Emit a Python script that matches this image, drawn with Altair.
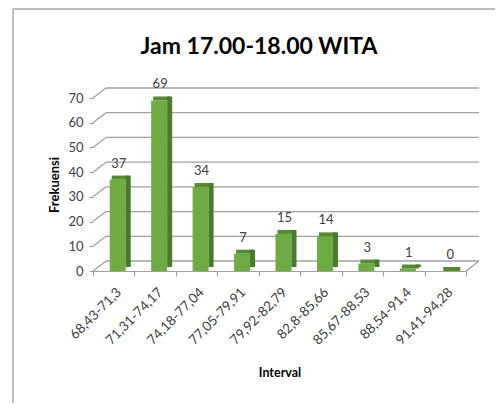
import altair as alt
import pandas as pd

title_text = "Jam 17.00-18.00 WITA"
intervals = ["68,43-71,3", "71,31-74,17", "74,18-77,04", "77,05-79,91",
             "79,92-82,79", "82,8-85,66", "85,67-88,53", "88,54-91,4", "91,41-94,28"]
frekuensi = [37, 69, 34, 7, 15, 14, 3, 1, 0]
y_ticks = [0, 10, 20, 30, 40, 50, 60, 70]

W, H = 373, 173
DX, DY = 13, -10
FONT = "Lato"
TXT = "#404040"
GRID = "#a0a0a0"

df = pd.DataFrame({"interval": intervals, "freq": frekuensi})
grid_df = pd.DataFrame({"freq": y_ticks})

x_enc = alt.X("interval:N", sort=intervals, title="Interval",
              scale=alt.Scale(paddingInner=0, paddingOuter=0),
              axis=alt.Axis(labelAngle=-45, labelFont=FONT, labelFontSize=13.5, labelColor=TXT,
                            tickBand="extent", tickSize=5, tickColor=GRID, tickWidth=1.2,
                            domainColor=GRID, domainWidth=1.2, labelPadding=9,
                            titleFont=FONT, titleFontSize=12.5, titleFontWeight="bold",
                            titleColor="#000000", titlePadding=20))
y_enc = alt.Y("freq:Q", scale=alt.Scale(domain=[0, 70]), title="Frekuensi",
              axis=alt.Axis(values=y_ticks, grid=False, domain=False, tickSize=4,
                            tickColor=GRID, tickWidth=1.2, labelFont=FONT, labelFontSize=13,
                            labelColor=TXT, labelPadding=6, titleFont=FONT, titleFontSize=13,
                            titleFontWeight="bold", titleColor="#000000", titlePadding=6))

back_grid = alt.Chart(grid_df).mark_rule(color=GRID, strokeWidth=1.3, yOffset=DY).encode(
    y=y_enc, x=alt.value(DX), x2=alt.value(W + DX))
slant = alt.Chart(grid_df).mark_rule(color=GRID, strokeWidth=1.3, y2Offset=DY).encode(
    y=y_enc, y2=alt.Y2("freq:Q"), x=alt.value(0), x2=alt.value(DX))
floor_right = alt.Chart(grid_df).transform_filter(alt.datum.freq == 0).mark_rule(
    color=GRID, strokeWidth=1.3, y2Offset=DY).encode(
    y=y_enc, y2=alt.Y2("freq:Q"), x=alt.value(W), x2=alt.value(W + DX))

base = alt.Chart(df).encode(x=x_enc, y=y_enc)
front = base.mark_bar(size=16, xOffset=4, color="#6fab44", opacity=1)
top = base.mark_tick(thickness=4, size=17, xOffset=6.5, yOffset=-2, color="#548a34", opacity=1)
side = base.mark_bar(size=5, xOffset=14.5, yOffset=-4, y2Offset=-2, color="#4a7a2b", opacity=1)
labels = base.mark_text(dx=5, dy=-12, baseline="alphabetic", font=FONT, fontSize=13,
                        color=TXT).encode(text="freq:Q")

title = alt.Chart(pd.DataFrame({"t": [title_text]})).mark_text(
    font=FONT, fontSize=23, fontWeight="bold", color="#000000", align="center",
    baseline="alphabetic").encode(text="t:N", x=alt.value(166), y=alt.value(-44))

border_top = alt.Chart(pd.DataFrame({"t": [0]})).mark_rule(color="#a6a6a6", strokeWidth=1.5).encode(
    x=alt.value(-80), x2=alt.value(W + 40), y=alt.value(-89))
border_left = alt.Chart(pd.DataFrame({"t": [0]})).mark_rule(color="#a6a6a6", strokeWidth=1.5).encode(
    x=alt.value(-80), y=alt.value(-89), y2=alt.value(H + 140))

chart = alt.layer(border_top, border_left, back_grid, slant, floor_right,
                  front, top, side, labels, title).properties(
    width=W, height=H,
    autosize=alt.AutoSizeParams(type="none"),
    padding={"left": 85, "top": 90, "right": 29, "bottom": 132},
).configure_view(stroke=None)

chart.save("out.html", embed_options={"renderer": "svg", "actions": False})
